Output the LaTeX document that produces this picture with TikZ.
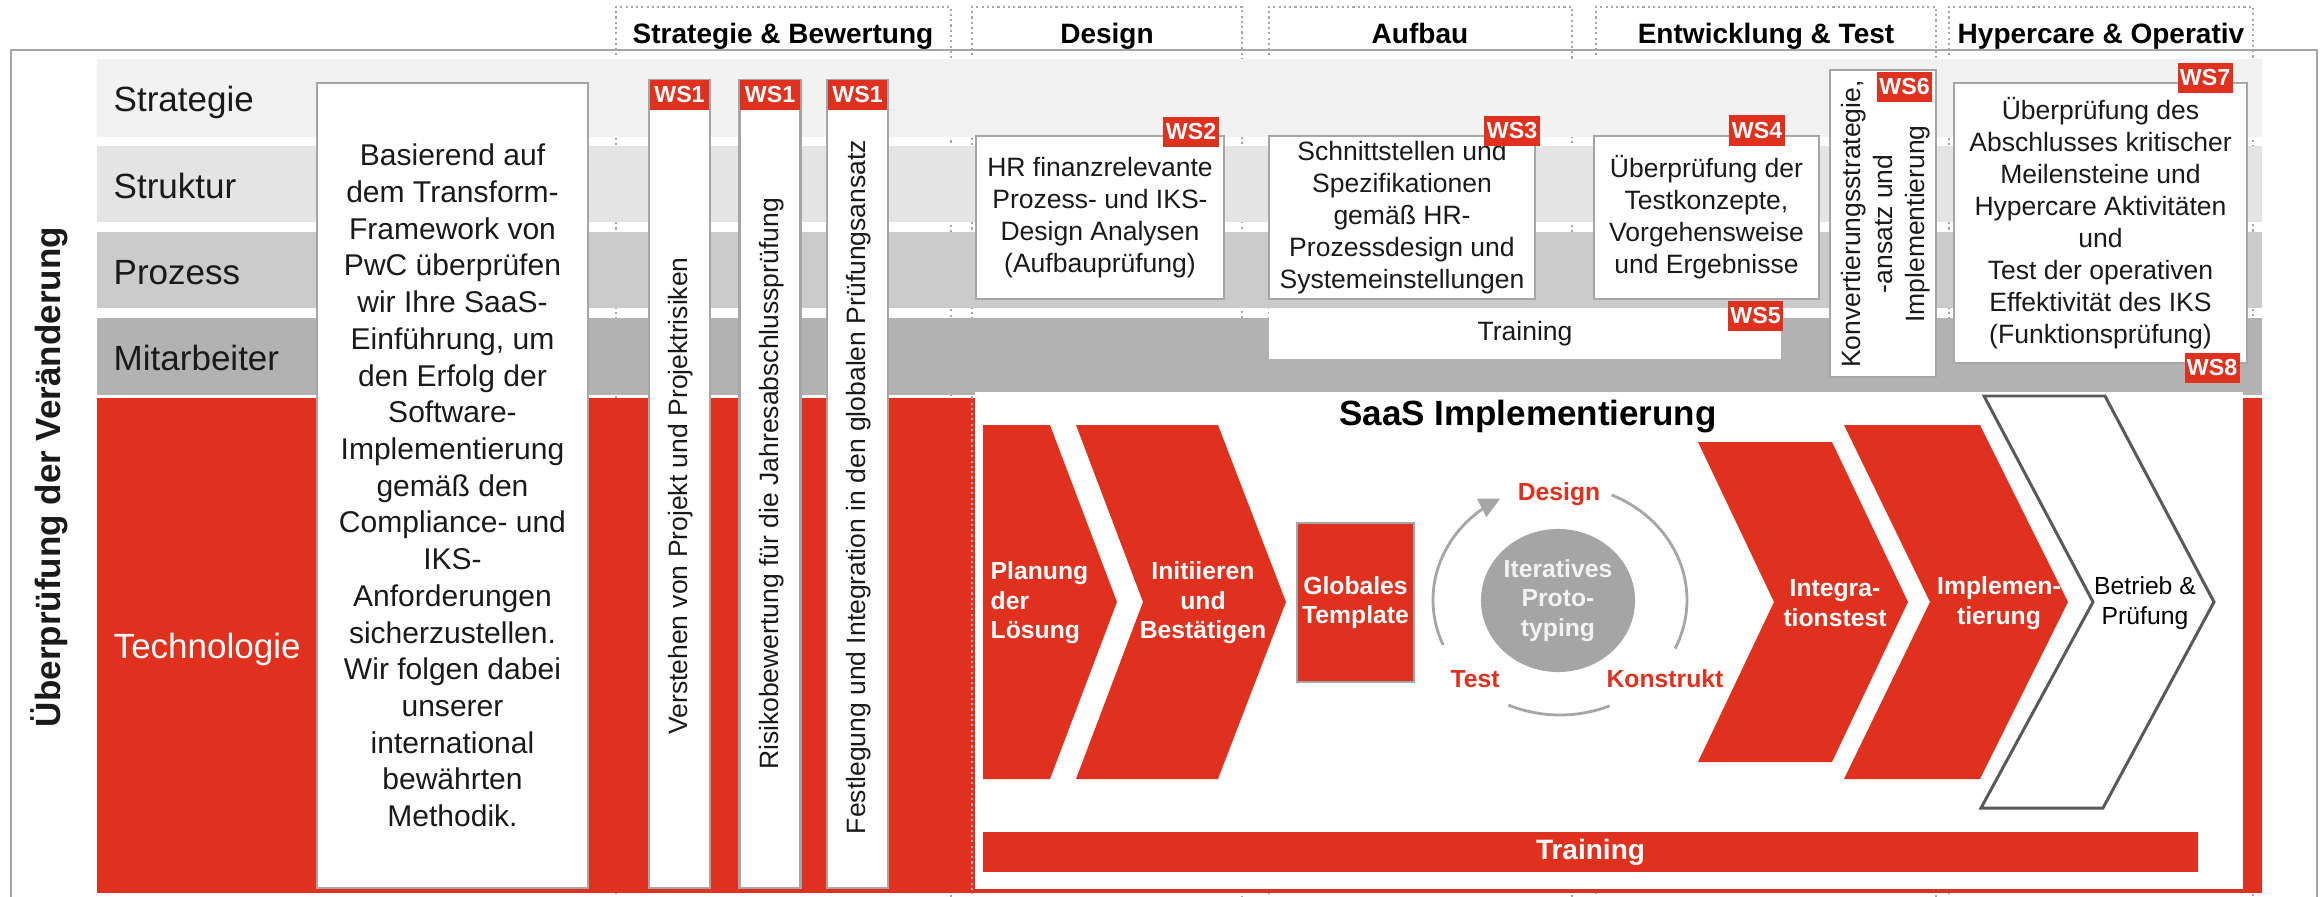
\documentclass[tikz,border=0pt]{standalone}
\usepackage{fontspec}
\setmainfont{Liberation Sans}
\usetikzlibrary{shapes.geometric,arrows.meta}
\definecolor{pwcred}{HTML}{E0301E}
\definecolor{bandA}{HTML}{F2F2F2}
\definecolor{bandB}{HTML}{E4E4E4}
\definecolor{bandC}{HTML}{CBCBCB}
\definecolor{bandD}{HTML}{B2B2B2}
\definecolor{boxgray}{HTML}{A6A6A6}
\definecolor{circgray}{HTML}{A5A5A5}
\definecolor{circtext}{HTML}{F2F2F2}
\definecolor{outlinegray}{HTML}{595959}
\definecolor{txt}{HTML}{1A1A1A}
\newcommand\myBig{\fontsize{8.54pt}{10.44pt}\selectfont}
\newcommand\myMid{\fontsize{7.54pt}{9.1pt}\selectfont}
\newcommand\myBand{\fontsize{9.96pt}{12pt}\selectfont}
\newcommand\myHead{\bfseries\fontsize{7.97pt}{9.5pt}\selectfont}
\newcommand\myTitle{\bfseries\fontsize{9.96pt}{12pt}\selectfont}
\newcommand\myChev{\bfseries\fontsize{7.03pt}{8.4pt}\selectfont}
\newcommand\myChevR{\fontsize{7.03pt}{8.4pt}\selectfont}
\newcommand\myWS{\bfseries\fontsize{6.6pt}{7pt}\selectfont}
\begin{document}
\begin{tikzpicture}[x=0.01cm, y=-0.01cm,
  mybox/.style={draw=boxgray, line width=0.6pt, fill=white, inner sep=0pt, align=center, text=txt},
  wslbl/.style={fill=pwcred, text=white, font=\myWS, minimum width=0.55cm, minimum height=0.3cm, inner sep=0pt},
  vtext/.style={rotate=90, font=\myMid, text=txt, align=center, inner sep=0pt},
  bandlbl/.style={font=\myBand, text=txt, anchor=base west, inner sep=0pt},
  header/.style={font=\myHead, text=black, anchor=base, inner sep=0pt},
  dotline/.style={draw=boxgray, line width=0.6pt, dash pattern=on 0.6pt off 0.9pt},
  chevtxt/.style={font=\myChev, text=white, align=center, inner sep=0pt},
  arcline/.style={draw=boxgray, line width=0.8pt},
  redlbl/.style={font=\myChev, text=pwcred, anchor=base, inner sep=0pt}]
\useasboundingbox (0,0) rectangle (2323,897);
\clip (0,0) rectangle (2323,897);
\fill[white] (0,0) rectangle (2323,897);

% phase header boxes (dotted, running down)
\foreach \a/\b in {616/951, 972/1242, 1269/1572, 1596/1936, 1949/2253}
  \draw[dotline] (\a,910) -- (\a,7) -- (\b,7) -- (\b,910);
\node[header] (h1) at (783,43) {Strategie \& Bewertung};
\node[header] (h2) at (1107,43) {Design};
\node[header] (h3) at (1420,43) {Aufbau};
\node[header] (h4) at (1766,43) {Entwicklung \& Test};
\node[header] (h5) at (2101,43) {Hypercare \& Operativ};

% outer frame
\draw[boxgray, line width=0.6pt] (11,930) -- (11,50) -- (2317,50) -- (2317,930);

% bands
\fill[bandA] (97,59) rectangle (2262,137);
\fill[bandB] (97,146) rectangle (2262,222);
\fill[bandC] (97,232) rectangle (2262,308);
\fill[bandD] (97,318) rectangle (2262,395);
\fill[pwcred] (97,398) rectangle (2262,893);
\node[bandlbl] (lStrat) at (113,111) {Strategie};
\node[bandlbl] (lStruk) at (113,198) {Struktur};
\node[bandlbl] (lProz) at (113,284) {Prozess};
\node[bandlbl] (lMit) at (113,370) {Mitarbeiter};
\node[bandlbl, text=white] (lTech) at (113,658) {Technologie};

% vertical title
\node[rotate=90, font=\myTitle, text=txt, inner sep=0pt] (vtitle) at (49,477) {Überprüfung der Veränderung};

% intro box
\node[mybox, minimum width=2.71cm, minimum height=8.05cm, font=\myBig] (intro) at (452.5,485.5)
 {Basierend auf\\dem Transform-\\Framework von\\PwC überprüfen\\wir Ihre SaaS-\\Einführung, um\\den Erfolg der\\Software-\\Implementierung\\gemäß den\\Compliance- und\\IKS-\\Anforderungen\\sicherzustellen.\\Wir folgen dabei\\unserer\\international\\bewährten\\Methodik.};

% WS1 columns
\node[mybox, minimum width=0.61cm, minimum height=8.08cm] (b1) at (679.5,484) {};
\node[wslbl, minimum width=0.59cm] (b1l) at (679.5,95) {WS1};
\node[vtext] (b1t) at (681,496) {Verstehen von Projekt und Projektrisiken};
\node[mybox, minimum width=0.61cm, minimum height=8.08cm] (b2) at (770,484) {};
\node[wslbl, minimum width=0.59cm] (b2l) at (770,95) {WS1};
\node[vtext] (b2t) at (771.5,484) {Risikobewertung für die Jahresabschlussprüfung};
\node[mybox, minimum width=0.61cm, minimum height=8.08cm] (b3) at (857.5,484) {};
\node[wslbl, minimum width=0.59cm] (b3l) at (857.5,95) {WS1};
\node[vtext] (b3t) at (859,487) {Festlegung und Integration in den globalen Prüfungsansatz};

% WS2 .. WS8 boxes
\node[mybox, minimum width=2.48cm, minimum height=1.63cm, font=\myMid] (hr) at (1100,217.5)
 {HR finanzrelevante\\Prozess- und IKS-\\Design Analysen\\(Aufbauprüfung)};
\node[wslbl] (ws2) at (1191,132) {WS2};
\node[mybox, minimum width=2.66cm, minimum height=1.63cm, font=\myMid] (schn) at (1402,217.5)
 {Schnittstellen und\\Spezifikationen\\gemäß HR-\\Prozessdesign und\\Systemeinstellungen};
\node[wslbl] (ws3) at (1512,131) {WS3};
\node[mybox, draw=none, minimum width=5.12cm, minimum height=0.51cm, font=\myMid] (trainw) at (1525,333.5) {Training};
\node[mybox, minimum width=2.25cm, minimum height=1.63cm, font=\myMid] (tk) at (1706.5,217.5)
 {Überprüfung der\\Testkonzepte,\\Vorgehensweise\\und Ergebnisse};
\node[wslbl] (ws4) at (1757,130.5) {WS4};
\node[wslbl] (ws5) at (1755.5,316) {WS5};
\node[mybox, minimum width=1.06cm, minimum height=3.07cm] (konv) at (1883,223.5) {};
\node[vtext] (konvt) at (1886,224) {Konvertierungsstrategie,\\-ansatz und\\Implementierung};
\node[wslbl] (ws6) at (1904.5,87) {WS6};
\node[mybox, minimum width=2.93cm, minimum height=2.80cm, font=\myMid] (hc) at (2100.5,223)
 {Überprüfung des\\Abschlusses kritischer\\Meilensteine und\\Hypercare Aktivitäten\\und\\Test der operativen\\Effektivität des IKS\\(Funktionsprüfung)};
\node[wslbl] (ws7) at (2205,78) {WS7};
\node[wslbl] (ws8) at (2212,368) {WS8};

% SaaS implementation panel
\node[fill=white, minimum width=12.68cm, minimum height=4.97cm, inner sep=0pt] (saas) at (1609,640.5) {};
\draw[dotline] (972,392) -- (972,893);
\node[font=\myTitle, text=black, anchor=base, inner sep=0pt] (saast) at (1528,425) {SaaS Implementierung};

% chevrons
\fill[pwcred] (983,425) -- (1050,425) -- (1117,602) -- (1050,779) -- (983,779) -- cycle;
\fill[pwcred] (1076,425) -- (1218,425) -- (1286,602) -- (1218,779) -- (1076,779) -- (1143,602) -- cycle;
\fill[pwcred] (1698,442) -- (1832,442) -- (1908,602) -- (1832,762) -- (1698,762) -- (1774,602) -- cycle;
\fill[pwcred] (1844,425) -- (1980,425) -- (2068,602) -- (1980,779) -- (1844,779) -- (1930,602) -- cycle;
\draw[outlinegray, line width=0.85pt, fill=white, line join=miter] (1984,396) -- (2105,396) -- (2214,602) -- (2103,808) -- (1981,808) -- (2093,602) -- cycle;

\node[chevtxt, align=left, anchor=west] (c1) at (990,603) {Planung\\der\\Lösung};
\node[chevtxt] (c2) at (1203,603) {Initiieren\\und\\Bestätigen};
\node[draw=boxgray, line width=0.6pt, fill=pwcred, minimum width=1.17cm, minimum height=1.59cm, inner sep=0pt, text=white, font=\myChev, align=center] (glob) at (1355.5,602.5) {Globales\\Template};
\node[chevtxt] (c3) at (1835,603) {Integra-\\tionstest};
\node[chevtxt] (c4) at (1999,603) {Implemen-\\tierung};
\node[chevtxt, font=\myChevR, text=black] (c5) at (2145,603) {Betrieb \&\\Prüfung};

% iterative prototyping cycle
\node[ellipse, fill=circgray, minimum width=1.54cm, minimum height=1.43cm, inner sep=0pt, text=circtext, font=\myChev, align=center] (proto) at (1558,600.5) {Iteratives\\Proto-\\typing};
\draw[arcline, -{Triangle[length=0.21cm, width=0.2cm]}] plot[domain=157:242, samples=40] ({1560+127*cos(\x)},{600+115*sin(\x)});
\draw[arcline] plot[domain=-66:25, samples=40] ({1560+127*cos(\x)},{600+115*sin(\x)});
\draw[arcline] plot[domain=67:114, samples=30] ({1560+127*cos(\x)},{600+115*sin(\x)});
\node[redlbl] (rDesign) at (1559,500) {Design};
\node[redlbl] (rTest) at (1475,687) {Test};
\node[redlbl] (rKon) at (1665,687) {Konstrukt};

% training bar
\node[fill=pwcred, minimum width=12.15cm, minimum height=0.40cm, inner sep=0pt, text=white, font=\bfseries\fontsize{7.97pt}{9pt}\selectfont] (trainbar) at (1590.5,852) {Training};
\end{tikzpicture}
\end{document}
